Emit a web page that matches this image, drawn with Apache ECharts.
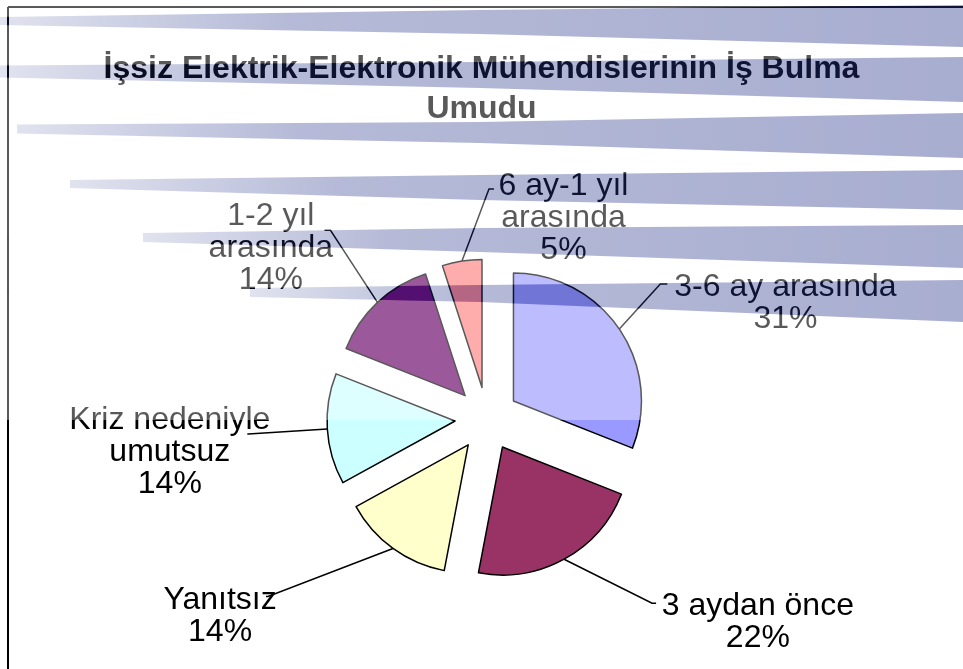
<!DOCTYPE html>
<html>
<head>
<meta charset="utf-8">
<script src="https://cdn.jsdelivr.net/npm/echarts@6/dist/echarts.min.js"></script>
<style>
html,body{margin:0;padding:0;background:#fff;}
#c{width:963px;height:669px;}
</style>
</head>
<body>
<div id="c"></div>
<script>
// ---- data ----
const categories = ['3-6 ay arasında', '3 aydan önce', 'Yanıtsız', 'Kriz nedeniyle umutsuz', '1-2 yıl arasında', '6 ay-1 yıl arasında'];
const values = [31, 22, 14, 14, 14, 5];
const labelText = ['3-6 ay arasında', '3 aydan önce', 'Yanıtsız', 'Kriz nedeniyle\numutsuz', '1-2 yıl\narasında', '6 ay-1 yıl\narasında'];
const titleLines = ['İşsiz Elektrik-Elektronik Mühendislerinin İş Bulma', 'Umudu'];

// ---- style ----
const colors = ['#9999FF', '#993366', '#FFFFCC', '#CCFFFF', '#660066', '#FF8080'];
const lineLen = [58, 70, 60, 10, 75, 60];
const lineLen2 = [2, 59, 76, 42, -12, -51];
const labelPad = [13, 4, 38, 44, 0, 33];
// leader line bend, relative to the line's start on the slice: [dx, dy, horizontal tail]
const leaderBend = [[41, -45, 7], [88, 44, 4], [-125, 48, -2], [-79, 5, -1], [-47, -72, -6], [27, -72, 5]];
const FONT = '"Liberation Sans", Arial, sans-serif';

// decorative background stripes (slide template)
const stripes = [
  {x0: 0,   c0: 21,    h0: 4,   xm: 480, cm: 22,    hm: 12,   c1: 26,    h1: 21},
  {x0: 0,   c0: 71.5,  h0: 6,   xm: 480, cm: 75,    hm: 13,   c1: 79.5,  h1: 22.5},
  {x0: 17,  c0: 129,   h0: 4.5, xm: 480, cm: 132.5, hm: 10.5, c1: 135.5, h1: 22.5},
  {x0: 70,  c0: 184,   h0: 4,   xm: 480, cm: 187.5, hm: 12.5, c1: 190,   h1: 20},
  {x0: 143, c0: 237.5, h0: 4.5, xm: 480, cm: 240,   hm: 12,   c1: 246.5, h1: 21.5},
  {x0: 250, c0: 292.5, h0: 4.5, xm: 480, cm: 293.5, hm: 8.5,  c1: 301,   h1: 21}
];
const W = 963, FADE_BOTTOM = 420;

function edge(s, sign) {
  return [[0, s.c0], [s.x0, s.c0], [s.x0, s.c0 + sign * s.h0], [s.xm, s.cm + sign * s.hm], [W, s.c1 + sign * s.h1]];
}
const graphics = [];
graphics.push({type: 'line', z: 50, shape: {x1: 8, y1: 7, x2: 8, y2: 669}, style: {stroke: '#000', lineWidth: 2}});
graphics.push({type: 'line', z: 50, shape: {x1: 8, y1: 7, x2: W, y2: 7}, style: {stroke: '#000', lineWidth: 2}});
const fade = 'rgba(255,255,255,0.35)';
const gaps = [];
gaps.push([[0, 0], [W, 0]].concat(edge(stripes[0], -1).reverse()));
for (let i = 0; i < stripes.length - 1; i++) {
  gaps.push(edge(stripes[i], 1).concat(edge(stripes[i + 1], -1).reverse()));
}
gaps.push(edge(stripes[stripes.length - 1], 1).concat([[W, FADE_BOTTOM], [0, FADE_BOTTOM]]));
gaps.forEach(pts => graphics.push({type: 'polygon', z: 100, shape: {points: pts}, style: {fill: fade}}));
stripes.forEach(s => {
  graphics.push({
    type: 'polygon', z: 100,
    shape: {points: [[s.x0, s.c0 - s.h0], [s.xm, s.cm - s.hm], [W, s.c1 - s.h1], [W, s.c1 + s.h1], [s.xm, s.cm + s.hm], [s.x0, s.c0 + s.h0]]},
    style: {fill: new echarts.graphic.LinearGradient(0, 0, 1, 0, [
      {offset: 0, color: 'rgba(38,52,138,0.14)'},
      {offset: 0.3, color: 'rgba(38,52,138,0.34)'},
      {offset: 1, color: 'rgba(38,52,138,0.40)'}
    ])}
  });
});

const chart = echarts.init(document.getElementById('c'), null, {renderer: 'canvas'});
chart.setOption({
  animation: false,
  backgroundColor: '#fff',
  title: {
    text: titleLines.map(s => '{t|' + s + '}').join('\n'),
    left: 'center',
    top: 44,
    textStyle: {
      fontFamily: FONT, fontSize: 32, fontWeight: 'bold', color: '#000', lineHeight: 40,
      rich: {t: {align: 'center', fontFamily: FONT, fontSize: 32, fontWeight: 'bold', color: '#000', lineHeight: 40}}
    }
  },
  graphic: graphics,
  series: [{
    type: 'pie',
    center: [487, 419],
    radius: 128,
    startAngle: 90,
    clockwise: true,
    selectedMode: 'multiple',
    selectedOffset: 32,
    avoidLabelOverlap: false,
    itemStyle: {borderColor: '#000', borderWidth: 1.5},
    select: {itemStyle: {borderColor: '#000', borderWidth: 1.5}},
    emphasis: {disabled: true},
    label: {
      show: true,
      position: 'outside',
      distanceToLabelLine: 5,
      color: '#000',
      fontFamily: FONT,
      fontSize: 32,
      lineHeight: 32,
      formatter: p => labelText[p.dataIndex].split('\n').concat(Math.round(p.percent) + '%').map(s => '{c|' + s + '}').join('\n'),
      rich: {c: {align: 'center', color: '#000', fontFamily: FONT, fontSize: 32, lineHeight: 32}}
    },
    labelLine: {show: true, smooth: false, lineStyle: {color: '#000', width: 1.5}},
    labelLayout: function (p) {
      const b = leaderBend[p.dataIndex];
      const s = p.labelLinePoints[0];
      const m = [s[0] + b[0], s[1] + b[1]];
      const e = [m[0] + b[2], m[1]];
      return {align: p.dataIndex === 5 ? 'left' : undefined, labelLinePoints: [s, m, e]};
    },
    data: values.map((v, i) => ({
      name: categories[i],
      value: v,
      selected: true,
      itemStyle: {color: colors[i]},
      label: {padding: [labelPad[i], 0, 0, 0]},
      labelLine: {length: lineLen[i], length2: lineLen2[i]}
    }))
  }]
});
</script>
</body>
</html>
